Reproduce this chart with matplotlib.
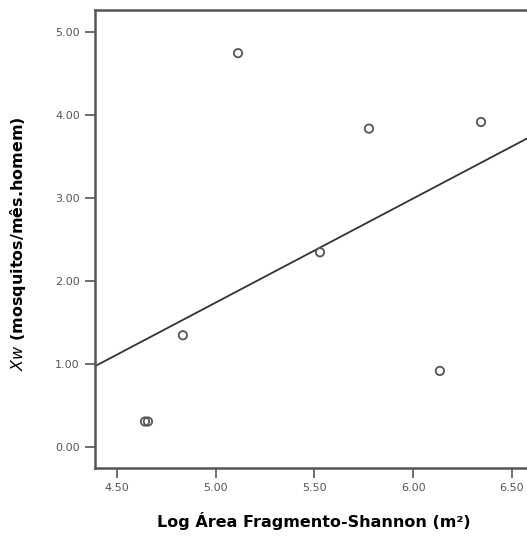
import numpy as np
import matplotlib
matplotlib.use("Agg")
import matplotlib.pyplot as plt

# data
log_area = [4.642, 4.657, 4.834, 5.113, 5.528, 5.776, 6.135, 6.343]
xw = [0.31, 0.31, 1.35, 4.75, 2.35, 3.84, 0.92, 3.92]
x_ticks = [4.50, 5.00, 5.50, 6.00, 6.50]
y_ticks = [0.00, 1.00, 2.00, 3.00, 4.00, 5.00]

plt.rcParams['font.family'] = ['DejaVu Sans']

fig = plt.figure(figsize=(5.27, 5.38), dpi=100)
ax = fig.add_axes([95 / 527, 1 - 468 / 538, 1 - 95 / 527, (468 - 10) / 538])

ax.scatter(log_area, xw, s=36, facecolors='none', edgecolors='#555555',
           linewidths=1.3, zorder=3)

# linear fit line
slope, intercept = np.polyfit(log_area, xw, 1)
xlim = (4.389, 6.576)
xs = np.array(xlim)
ax.plot(xs, intercept + slope * xs, color='#333333', linewidth=1.3)

ax.set_xlim(*xlim)
ax.set_ylim(-0.25, 5.27)
ax.set_xticks(x_ticks)
ax.set_yticks(y_ticks)
ax.set_xticklabels(["%.2f" % v for v in x_ticks])
ax.set_yticklabels(["%.2f" % v for v in y_ticks])
ax.tick_params(direction='out', length=7, width=1.2, colors='#555555',
               labelsize=8, labelcolor='#555555', pad=4)

for side in ['left', 'top', 'bottom']:
    ax.spines[side].set_color('#555555')
    ax.spines[side].set_linewidth(1.8)
ax.spines['right'].set_visible(False)

fig.text(314 / 527, 1 - 521 / 538, "Log Área Fragmento-Shannon (m²)",
         ha='center', va='center', fontsize=11.5, fontweight='bold')
fig.text(18 / 527, 1 - 244 / 538, r"$\it{Xw}$ (mosquitos/mês.homem)",
         ha='center', va='center', rotation=90, fontsize=11.5,
         fontweight='bold')

fig.savefig("out.png", dpi=100)
